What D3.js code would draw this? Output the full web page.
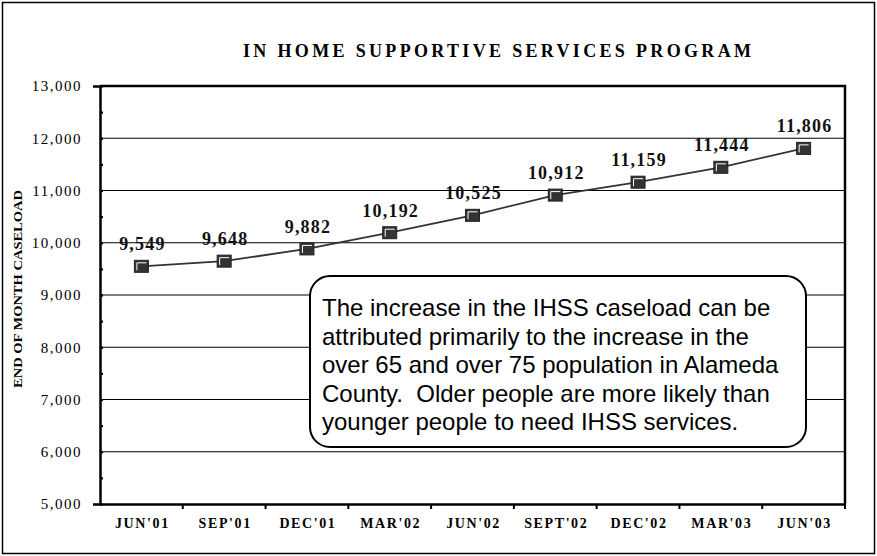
<!DOCTYPE html>
<html>
<head>
  <meta charset="UTF-8">
  <style>
    body { margin: 0; background: #fff; }
    svg { display: block; }
    .serif { font-family: "Liberation Serif", "Times New Roman", serif; }
    .tick text { font-family: "Liberation Serif", serif; font-size: 15px; letter-spacing: 1.5px; fill: #000; }
  </style>
</head>
<body>
<svg width="877" height="556"></svg>

<script src="https://d3js.org/d3.v7.min.js"></script>
<script>
// data
const months = ["JUN'01", "SEP'01", "DEC'01", "MAR'02", "JUN'02", "SEPT'02", "DEC'02", "MAR'03", "JUN'03"];
const caseload = [9549, 9648, 9882, 10192, 10525, 10912, 11159, 11444, 11806];
const yMajor = [5000, 6000, 7000, 8000, 9000, 10000, 11000, 12000, 13000];
const yMinor = [5500, 6500, 7500, 8500, 9500, 10500, 11500, 12500];
const noteLines = [
  "The increase in the IHSS caseload can be",
  "attributed primarily to the increase in the",
  "over 65 and over 75 population in Alameda",
  "County.  Older people are more likely than",
  "younger people to need IHSS services."
];

const plot = {left: 100, right: 845, top: 86, bottom: 504};

const svg = d3.select("svg");

// outer frame
svg.append("rect")
  .attr("x", 2.5).attr("y", 2.5)
  .attr("width", 872).attr("height", 551)
  .attr("fill", "none").attr("stroke", "#000").attr("stroke-width", 1.5);

const x = d3.scaleBand().domain(months).range([plot.left, plot.right]);
const y = d3.scaleLinear().domain([5000, 13000]).range([plot.bottom, plot.top]);

// gridlines
svg.append("g")
  .selectAll("line")
  .data(yMajor.slice(1, -1))
  .join("line")
    .attr("x1", plot.left).attr("x2", plot.right)
    .attr("y1", d => y(d)).attr("y2", d => y(d))
    .attr("stroke", "#000").attr("stroke-width", 1.2);

// top + right border of plot
svg.append("path")
  .attr("d", `M${plot.left},${plot.top}H${plot.right}V${plot.bottom}`)
  .attr("fill", "none").attr("stroke", "#000").attr("stroke-width", 2.5);

// y axis, major ticks
let yAxis = svg.append("g")
  .attr("transform", `translate(${plot.left},0)`)
  .call(d3.axisLeft(y).tickValues(yMajor).tickSize(7).tickPadding(11).tickFormat(d3.format(",")));
yAxis.select(".domain").attr("stroke-width", 2.5);
yAxis.selectAll(".tick line").attr("x2", 3).attr("stroke-width", 2.2);

// minor ticks
let yMinorAxis = svg.append("g")
  .attr("transform", `translate(${plot.left},0)`)
  .call(d3.axisLeft(y).tickValues(yMinor).tickSize(4).tickFormat(""));
yMinorAxis.select(".domain").remove();
yMinorAxis.selectAll(".tick line").attr("x2", 3).attr("stroke-width", 2.2);

// x axis: ticks at band edges
let xAxis = svg.append("g")
  .attr("transform", `translate(0,${plot.bottom})`)
  .call(d3.axisBottom(x).tickSize(0).tickFormat(""));
xAxis.select(".domain").attr("stroke-width", 2.5);
xAxis.selectAll(".tick").remove();

svg.append("g")
  .selectAll("line")
  .data(months.slice(1))
  .join("line")
    .attr("x1", d => x(d)).attr("x2", d => x(d))
    .attr("y1", plot.bottom).attr("y2", plot.bottom + 5)
    .attr("stroke", "#000").attr("stroke-width", 2);
svg.append("line")
  .attr("x1", plot.right).attr("x2", plot.right)
  .attr("y1", plot.bottom).attr("y2", plot.bottom + 5)
  .attr("stroke", "#000").attr("stroke-width", 2);

svg.append("g")
  .selectAll("text")
  .data(months)
  .join("text")
    .attr("class", "serif")
    .attr("x", d => x(d) + x.bandwidth() / 2 + 1)
    .attr("y", 528)
    .attr("text-anchor", "middle")
    .attr("font-size", 14)
    .attr("font-weight", "bold")
    .attr("letter-spacing", 1.6)
    .text(d => d);

// title
svg.append("text")
  .attr("class", "serif")
  .attr("x", 497).attr("y", 57)
  .attr("text-anchor", "middle")
  .attr("font-size", 18)
  .attr("font-weight", "bold")
  .attr("textLength", 508)
  .attr("lengthAdjust", "spacing")
  .text("IN HOME SUPPORTIVE SERVICES PROGRAM");

// y axis label
svg.append("text")
  .attr("class", "serif")
  .attr("transform", "translate(22,289) rotate(-90)")
  .attr("text-anchor", "middle")
  .attr("font-size", 12.5)
  .attr("font-weight", "bold")
  .attr("textLength", 198)
  .attr("lengthAdjust", "spacingAndGlyphs")
  .text("END OF MONTH CASELOAD");

// series line
const cx = (d, i) => x(months[i]) + x.bandwidth() / 2;
svg.append("path")
  .datum(caseload)
  .attr("d", d3.line().x(cx).y(d => y(d)))
  .attr("fill", "none")
  .attr("stroke", "#333")
  .attr("stroke-width", 1.8);

// markers
let marks = svg.append("g")
  .selectAll("g")
  .data(caseload)
  .join("g")
    .attr("transform", (d, i) => `translate(${cx(d, i)},${y(d)})`);
marks.append("rect")
  .attr("x", -7).attr("y", -6)
  .attr("width", 14).attr("height", 12)
  .attr("fill", "#333").attr("stroke", "#222").attr("stroke-width", 1);
marks.append("path")
  .attr("d", "M-4.5,4V-3.5H5")
  .attr("fill", "none").attr("stroke", "#fff").attr("stroke-width", 1);

// value labels
svg.append("g")
  .selectAll("text")
  .data(caseload)
  .join("text")
    .attr("class", "serif")
    .attr("x", (d, i) => cx(d, i) + 1)
    .attr("y", d => y(d) - 16)
    .attr("text-anchor", "middle")
    .attr("font-size", 18)
    .attr("font-weight", "bold")
    .attr("letter-spacing", 1.2)
    .attr("fill", "#111")
    .text(d => d3.format(",")(d));

// callout box
svg.append("rect")
  .attr("x", 310).attr("y", 276)
  .attr("width", 496).attr("height", 171)
  .attr("rx", 20).attr("ry", 20)
  .attr("fill", "#fff").attr("stroke", "#000").attr("stroke-width", 2);

svg.append("g")
  .selectAll("text")
  .data(noteLines)
  .join("text")
    .attr("x", 322)
    .attr("y", (d, i) => 316 + i * 28.5)
    .attr("font-family", "'Liberation Sans', Arial, sans-serif")
    .attr("font-size", 24)
    .attr("fill", "#000")
    .attr("xml:space", "preserve")
    .style("white-space", "pre")
    .text(d => d);
</script>
</body>
</html>
